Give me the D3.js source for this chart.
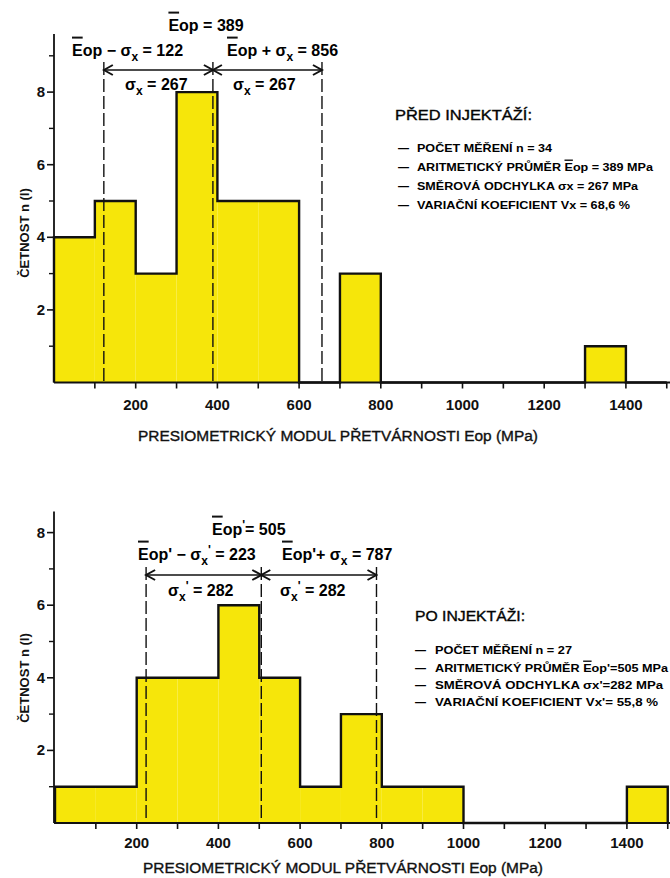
<!DOCTYPE html>
<html>
<head>
<meta charset="utf-8">
<script src="https://cdn.jsdelivr.net/npm/d3@7"></script>
<style>
  body { margin: 0; background: #fff; }
  svg { display: block; font-family: "Liberation Sans", Arial, sans-serif; }
</style>
</head>
<body>
<svg id="chart"></svg>
<script>
// hodnoty
const binStarts = [0, 100, 200, 300, 400, 500, 600, 700, 800, 900, 1000, 1100, 1200, 1300, 1400];
const binWidth = 100;
const countsBefore = [4, 5, 3, 8, 5, 5, 0, 3, 0, 0, 0, 0, 0, 1, 0];
const countsAfter  = [1, 1, 4, 4, 6, 4, 1, 3, 1, 1, 0, 0, 0, 0, 1];
const markersBefore = [122, 389, 656];   // Eop - σ, Eop, Eop + σ
const markersAfter  = [223, 505, 787];
const xTickLabels = [200, 400, 600, 800, 1000, 1200, 1400];
const xMinorTicks = [100, 200, 300, 400, 500, 600, 700, 800, 900, 1000, 1100, 1200, 1300, 1400, 1500];
const yMajorTicks = [2, 4, 6, 8];
const yMinorBefore = [1, 3, 5, 7, 9];
const yMinorAfter = [1, 3, 5, 7];

const xTitle = "PRESIOMETRICKÝ MODUL PŘETVÁRNOSTI Eop (MPa)";
const yTitle = "ČETNOST n (l)";

const legendBefore = [
  ["POČET MĚŘENÍ n = 34"],
  ["ARITMETICKÝ PRŮMĚR ", { t: "E", bar: true }, "op = 389 MPa"],
  ["SMĚROVÁ ODCHYLKA ", "σ", "x = 267 MPa"],
  ["VARIAČNÍ KOEFICIENT Vx = 68,6 %"]
];
const legendAfter = [
  ["POČET MĚŘENÍ n = 27"],
  ["ARITMETICKÝ PRŮMĚR ", { t: "E", bar: true }, "op'=505 MPa"],
  ["SMĚROVÁ ODCHYLKA  ", "σ", "x'=282 MPa"],
  ["VARIAČNÍ KOEFICIENT  Vx'= 55,8  %"]
];

const width = 670, height = 878;
const yellow = "#f6e60a";

const svg = d3.select("#chart").attr("width", width).attr("height", height);

// text s pruhem nad písmenem a indexy
function rich(g, x, y, parts, size, opts = {}) {
  const t = g.append("text")
    .attr("x", x).attr("y", y)
    .attr("font-size", size)
    .attr("font-weight", opts.weight || "bold")
    .attr("text-anchor", opts.anchor || "start");
  if (opts.len) t.attr("textLength", opts.len).attr("lengthAdjust", "spacingAndGlyphs");
  let shift = 0, idx = 0;
  const bars = [];
  parts.forEach(p => {
    const s = typeof p === "string" ? { t: p } : p;
    const target = s.sub ? size * 0.3 : s.sup ? -size * 0.35 : 0;
    const ts = t.append("tspan").text(s.t);
    if (target - shift !== 0) ts.attr("dy", target - shift);
    if (s.sub || s.sup) ts.attr("font-size", size * 0.75);
    shift = target;
    if (s.bar) bars.push([idx, idx + s.t.length - 1]);
    idx += s.t.length;
  });
  bars.forEach(([a, b]) => {
    const e1 = t.node().getExtentOfChar(a);
    const e2 = t.node().getExtentOfChar(b);
    const by = y - size * (opts.barGap || 1.0);
    g.append("line")
      .attr("x1", e1.x).attr("x2", e2.x + e2.width)
      .attr("y1", by).attr("y2", by)
      .attr("stroke", "#111").attr("stroke-width", size > 13 ? 2 : 1.4);
  });
  return t;
}

function drawPanel(cfg) {
  const g = svg.append("g");
  const x = d3.scaleLinear().domain([0, 1500]).range([cfg.x0, cfg.x0 + 1500 * 0.4085]);
  const y = d3.scaleLinear().domain([0, cfg.yMax]).range([cfg.base, cfg.base - cfg.yMax * 36.3]);

  // sloupce
  g.selectAll("rect.bar")
    .data(binStarts.map((b, i) => ({ b, c: cfg.counts[i] })).filter(d => d.c > 0))
    .join("rect")
    .attr("class", "bar")
    .attr("x", d => x(d.b))
    .attr("y", d => y(d.c))
    .attr("width", d => x(d.b + binWidth) - x(d.b))
    .attr("height", d => y(0) - y(d.c))
    .attr("fill", yellow);

  // obrys histogramu
  const pts = [[0, 0]].concat(binStarts.map((b, i) => [b, cfg.counts[i]])).concat([[1500, 0]]);
  g.append("path")
    .attr("d", d3.line().x(d => x(d[0])).y(d => y(d[1])).curve(d3.curveStepAfter)(pts))
    .attr("fill", "none").attr("stroke", "#111").attr("stroke-width", 2.4)
    .attr("stroke-linejoin", "miter");

  // osa x
  g.append("line")
    .attr("x1", 54).attr("x2", width).attr("y1", y(0)).attr("y2", y(0))
    .attr("stroke", "#111").attr("stroke-width", 2.2);
  g.selectAll("line.xt").data(xMinorTicks).join("line")
    .attr("x1", d => x(d)).attr("x2", d => x(d))
    .attr("y1", y(0)).attr("y2", y(0) + 6)
    .attr("stroke", "#111").attr("stroke-width", 1.6);
  g.selectAll("text.xl").data(xTickLabels).join("text")
    .attr("x", d => x(d)).attr("y", cfg.base + cfg.xLabelDy)
    .attr("text-anchor", "middle").attr("font-size", 15).attr("font-weight", "bold")
    .attr("fill", "#111").text(d => d);
  g.append("text")
    .attr("x", cfg.xTitleX).attr("y", cfg.base + cfg.xTitleDy)
    .attr("text-anchor", "start").attr("font-size", 14)
    .attr("textLength", 400).attr("lengthAdjust", "spacingAndGlyphs")
    .attr("fill", "#111").attr("stroke", "#111").attr("stroke-width", 0.35)
    .text(xTitle);

  // osa y
  g.append("line")
    .attr("x1", 54).attr("x2", 54).attr("y1", y(0)).attr("y2", y(cfg.yMax))
    .attr("stroke", "#111").attr("stroke-width", 1.8);
  g.selectAll("line.ytM").data(yMajorTicks).join("line")
    .attr("x1", 47).attr("x2", 54).attr("y1", d => y(d)).attr("y2", d => y(d))
    .attr("stroke", "#111").attr("stroke-width", 1.6);
  g.selectAll("line.ytm").data(cfg.yMinor).join("line")
    .attr("x1", 49).attr("x2", 54).attr("y1", d => y(d)).attr("y2", d => y(d))
    .attr("stroke", "#111").attr("stroke-width", 1.4);
  g.selectAll("text.yl").data(yMajorTicks).join("text")
    .attr("x", 45).attr("y", d => y(d) + 5)
    .attr("text-anchor", "end").attr("font-size", 15).attr("font-weight", "bold")
    .attr("fill", "#111").text(d => d);
  g.append("text")
    .attr("transform", `translate(29,${cfg.yTitleY}) rotate(-90)`)
    .attr("text-anchor", "middle").attr("font-size", 13).attr("font-weight", "bold")
    .attr("fill", "#111").text(yTitle);

  // čárkované svislice
  g.selectAll("line.mk").data(cfg.markers).join("line")
    .attr("x1", d => x(d)).attr("x2", d => x(d))
    .attr("y1", cfg.arrowY - 8).attr("y2", y(0))
    .attr("stroke", "#111").attr("stroke-width", 1.4)
    .attr("stroke-dasharray", "13,4");

  // šipky
  [[cfg.markers[0], cfg.markers[1]], [cfg.markers[1], cfg.markers[2]]].forEach(([a, b]) => {
    g.append("line")
      .attr("x1", x(a)).attr("x2", x(b)).attr("y1", cfg.arrowY).attr("y2", cfg.arrowY)
      .attr("stroke", "#111").attr("stroke-width", 1.6)
      .attr("marker-start", "url(#arr)").attr("marker-end", "url(#arr)");
  });

  // popisky
  cfg.notes.forEach(n => rich(g, n.x, n.y, n.parts, 16, { anchor: n.anchor, barGap: 1.15 }));

  // legenda
  rich(g, cfg.legX, cfg.legY, [cfg.legTitle], 15, { len: cfg.legTitleLen, weight: "normal" })
    .attr("stroke", "#111").attr("stroke-width", 0.4);
  cfg.legend.forEach((parts, i) => {
    const ly = cfg.legLines[i];
    g.append("text").attr("x", cfg.dashX).attr("y", ly)
      .attr("font-size", 11).attr("font-weight", "bold").text("—");
    rich(g, cfg.textX, ly, parts, 11, { len: cfg.legLens[i], barGap: 0.98 });
  });
}

svg.append("defs").append("marker")
  .attr("id", "arr").attr("viewBox", "-10 -6 12 12")
  .attr("refX", 0).attr("refY", 0)
  .attr("markerWidth", 12).attr("markerHeight", 12)
  .attr("markerUnits", "userSpaceOnUse")
  .attr("orient", "auto-start-reverse")
  .append("path").attr("d", "M-9,-5 L0,0 L-9,5")
  .attr("fill", "none").attr("stroke", "#111").attr("stroke-width", 2);

drawPanel({
  x0: 54, base: 382.5, yMax: 9.6, counts: countsBefore, yMinor: yMinorBefore,
  markers: markersBefore, arrowY: 70,
  xLabelDy: 27, xTitleDy: 58, xTitleX: 138, yTitleY: 233,
  notes: [
    { x: 206, y: 31, anchor: "middle", parts: [{ t: "E", bar: true }, "op = 389"] },
    { x: 72, y: 56, parts: [{ t: "E", bar: true }, "op − ", "σ", { t: "x", sub: true }, " = 122"] },
    { x: 227, y: 56, parts: [{ t: "E", bar: true }, "op + ", "σ", { t: "x", sub: true }, " = 856"] },
    { x: 125, y: 90, parts: ["σ", { t: "x", sub: true }, " = 267"] },
    { x: 233, y: 90, parts: ["σ", { t: "x", sub: true }, " = 267"] }
  ],
  legTitle: "PŘED INJEKTÁŽÍ:", legX: 395, legY: 120, legTitleLen: 137,
  legend: legendBefore, dashX: 398, textX: 417,
  legLines: [152, 171, 190, 209], legLens: [135, 236, 221, 213]
});

drawPanel({
  x0: 55, base: 823, yMax: 8.58, counts: countsAfter, yMinor: yMinorAfter,
  markers: markersAfter, arrowY: 575,
  xLabelDy: 25, xTitleDy: 50, xTitleX: 143, yTitleY: 678,
  notes: [
    { x: 212, y: 535, parts: [{ t: "E", bar: true }, "op", { t: "'", sup: true }, "= 505"] },
    { x: 138, y: 560, parts: [{ t: "E", bar: true }, "op'", " − ", "σ", { t: "x", sub: true }, { t: "'", sup: true }, " = 223"] },
    { x: 282, y: 560, parts: [{ t: "E", bar: true }, "op'+ ", "σ", { t: "x", sub: true }, " = 787"] },
    { x: 168, y: 596, parts: ["σ", { t: "x", sub: true }, { t: "'", sup: true }, " = 282"] },
    { x: 280, y: 596, parts: ["σ", { t: "x", sub: true }, { t: "'", sup: true }, " = 282"] }
  ],
  legTitle: "PO INJEKTÁŽI:", legX: 415, legY: 621, legTitleLen: 110,
  legend: legendAfter, dashX: 415, textX: 435,
  legLines: [654, 672, 689, 706], legLens: [137, 233, 228, 223]
});
</script>
</body>
</html>
